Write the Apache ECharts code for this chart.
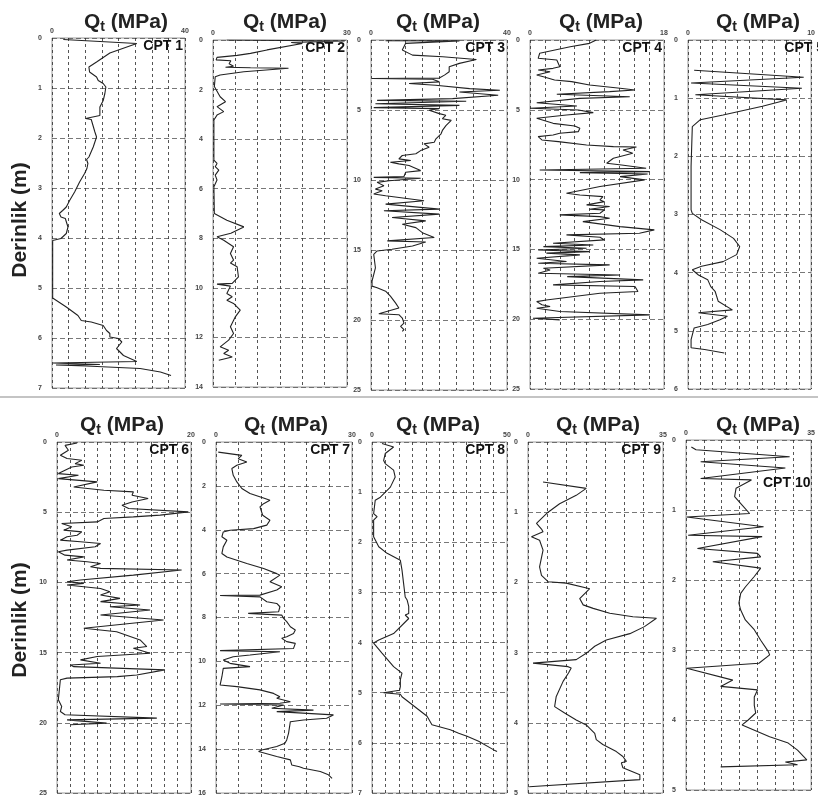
<!DOCTYPE html>
<html>
<head>
<meta charset="utf-8">
<script src="https://cdn.jsdelivr.net/npm/echarts@6/dist/echarts.min.js"></script>
<style>
  html, body { margin: 0; padding: 0; background: #fff; }
  #chart { width: 818px; height: 800px; }
</style>
</head>
<body>
<div id="chart"></div>
<script>
// ---- CPT soundings: depth (m) and cone resistance Qt (MPa) ----
const cpt1Depth = [0.03,0.11,0.3,0.48,0.58,0.68,0.78,0.85,0.91,0.98,1.11,1.25,1.38,1.55,1.61,1.63,1.88,1.98,2.18,2.38,2.43,2.51,2.61,2.71,2.88,3.08,3.25,3.38,3.45,3.51,3.58,3.61,3.78,3.91,4.01,4.05,5.2,5.38,5.55,5.65,5.68,5.75,5.85,5.91,5.98,6.01,6.08,6.21,6.25,6.35,6.41,6.47,6.5,6.53,6.54,6.56,6.61,6.68,6.75];
const cpt1Qt    = [3.4,25.5,17.4,13.4,11.1,11.3,13.4,13.9,15.4,16.2,15.9,15.4,14.4,14.4,10.1,11.8,12.9,13.4,12.4,11.1,10.4,10.8,10.5,9.8,8.3,6.8,5.3,4.3,3.2,2.2,2.7,4.0,4.8,4.3,2.7,0.2,0.2,4.3,7.8,8.8,11.8,15.4,16.4,17.4,17.4,20.0,21.0,19.4,18.9,21.5,23.5,25.5,0.2,14.4,1.2,10.3,26.5,32.6,35.8];

const cpt2Depth = [0.0,0.04,0.1,0.14,0.4,0.54,0.62,0.7,0.8,0.84,0.96,1.06,1.1,1.12,1.14,1.28,1.41,1.48,1.88,2.29,2.49,2.69,2.89,3.03,3.23,4.85,4.98,5.11,5.25,5.45,5.65,5.92,7.0,7.27,7.54,7.8,7.94,8.08,8.34,8.61,8.88,9.0,9.15,9.56,9.82,9.85,9.93,10.23,10.36,10.5,10.63,10.9,11.17,11.57,11.84,12.11,12.38,12.52,12.65,12.79,12.92];
const cpt2Qt    = [3.1,29.5,17.5,20.0,12.1,8.4,5.4,0.9,0.7,4.0,3.6,4.6,2.8,8.4,16.9,6.9,1.6,0.5,0.3,1.6,2.8,0.9,2.4,0.9,0.2,0.2,0.9,0.5,1.3,0.5,0.9,0.2,0.3,3.1,6.9,4.0,0.9,2.4,4.6,3.9,4.6,3.9,5.4,5.7,4.3,0.9,3.9,3.1,4.3,3.1,4.6,6.1,5.0,3.9,4.6,3.5,1.6,3.5,2.4,4.3,1.3];

const cpt3Depth = [0.05,0.06,0.24,0.72,1.08,1.2,1.39,1.67,1.91,2.27,2.51,2.72,2.75,2.8,2.99,3.11,3.23,3.47,3.59,3.71,3.95,4.19,4.31,4.38,4.55,4.67,4.83,4.9,5.02,5.26,5.38,5.62,5.74,6.1,6.46,6.7,7.06,7.3,7.42,7.66,7.9,8.13,8.25,8.49,8.61,8.73,8.85,8.97,9.33,9.45,9.75,9.81,9.87,10.05,10.17,10.41,10.65,10.77,11.0,11.12,11.48,11.72,12.08,12.2,12.44,12.68,12.92,13.16,13.4,13.76,14.11,14.35,14.43,14.71,14.95,15.07,15.31,16.27,16.75,17.22,17.58,17.7,17.94,18.3,18.78,19.14,19.55,19.62,19.86,20.22,20.45,20.69,20.81];
const cpt3Qt    = [4.3,26.0,10.2,9.2,12.2,21.1,31.0,26.0,23.0,23.0,21.6,20.1,0.3,18.1,20.1,11.2,19.0,29.0,37.9,26.0,37.4,24.0,1.8,28.0,1.3,26.0,0.8,20.0,17.1,20.1,22.0,21.0,23.6,22.1,21.0,20.6,19.1,18.6,15.6,17.1,14.6,13.2,9.2,8.2,11.7,5.7,8.2,11.2,14.6,10.2,9.7,0.8,14.6,5.3,1.8,3.8,1.3,3.3,0.8,4.3,15.6,4.3,20.1,3.8,20.1,6.2,16.1,9.2,13.2,15.1,18.6,4.8,16.1,12.2,6.2,1.8,0.8,1.3,0.8,0.3,0.3,1.8,4.3,5.7,7.2,8.2,2.3,8.2,9.2,9.7,8.7,9.7,9.2];

const cpt4Depth = [0.0,0.24,0.48,0.95,1.31,1.43,1.91,2.03,2.15,2.27,2.51,2.63,2.86,2.98,3.22,3.46,3.58,3.7,3.89,4.06,4.18,4.49,4.73,4.89,5.01,5.2,5.37,5.61,5.97,6.16,6.32,6.56,6.68,6.8,6.92,7.16,7.28,7.52,7.64,7.66,7.88,8.11,8.47,8.83,8.95,9.19,9.31,9.43,9.5,9.6,9.79,10.02,10.5,10.74,10.98,11.1,11.22,11.46,11.58,11.81,11.93,12.12,12.17,12.41,12.53,12.65,12.77,13.01,13.37,13.6,13.84,13.96,14.13,14.32,14.44,14.56,14.68,14.8,14.92,15.04,15.16,15.27,15.39,15.63,15.87,15.99,16.11,16.35,16.47,16.71,16.83,16.95,17.18,17.3,17.54,17.66,18.02,18.14,18.62,18.74,18.97,19.09,19.21,19.45,19.69,19.93,20.05];
const cpt4Qt    = [8.9,8.0,5.4,1.3,1.1,3.6,4.0,3.1,1.1,2.7,0.9,1.8,3.3,5.6,8.0,12.1,14.1,10.7,3.6,13.4,6.7,0.9,6.3,0.0,6.5,8.5,4.9,0.9,3.1,6.0,6.7,6.5,4.0,3.1,1.1,1.6,3.8,7.6,11.2,14.3,12.5,13.8,11.2,10.3,12.3,15.6,1.3,16.1,6.7,15.8,12.1,15.4,9.4,7.1,4.9,6.7,9.8,9.4,10.0,7.6,10.7,8.0,10.0,9.4,4.0,9.4,10.7,7.1,12.1,16.7,14.7,4.9,9.4,10.0,9.8,3.1,8.5,1.8,7.6,1.1,8.0,2.2,6.7,0.9,4.9,1.1,10.7,1.8,2.7,1.1,12.1,5.0,15.2,9.4,3.1,14.1,14.5,9.4,2.2,0.9,1.6,2.7,0.9,4.0,16.1,0.4,4.0];

const cpt5Depth = [0.52,0.64,0.74,0.83,0.94,1.03,1.14,1.29,1.37,1.49,2.17,2.92,2.98,3.09,3.26,3.41,3.55,3.69,3.81,3.89,3.95,4.04,4.12,4.24,4.32,4.49,4.64,4.69,4.75,4.81,4.89,4.95,5.15,5.29,5.32,5.38];
const cpt5Qt    = [0.5,9.4,0.25,9.25,0.6,8.0,6.05,2.85,1.0,0.35,0.25,0.25,0.35,1.1,2.6,3.7,4.2,3.95,2.85,1.1,0.35,0.85,1.6,1.85,2.2,2.45,3.6,0.85,3.2,2.6,1.6,0.5,0.25,0.25,1.35,2.95];

const cpt6Depth = [0.07,0.24,0.59,0.95,1.18,1.3,1.54,1.66,1.78,2.01,2.25,2.37,2.61,2.84,3.2,3.44,3.55,3.79,4.03,4.27,4.5,4.74,4.98,5.21,5.33,5.45,5.69,5.81,6.04,6.28,6.4,6.64,6.75,6.99,7.11,7.23,7.46,7.7,7.82,8.06,8.18,8.41,8.53,8.65,8.89,9.0,9.12,9.48,9.83,9.95,10.07,10.19,10.43,10.66,10.9,11.14,11.37,11.61,11.73,11.97,12.32,12.68,13.27,13.51,14.1,14.57,14.69,15.05,15.28,15.52,15.76,15.88,16.0,16.23,16.59,16.71,16.82,16.94,18.36,18.84,19.2,19.43,19.67,19.79,20.02,20.14];
const cpt6Qt    = [3.0,1.2,1.7,0.5,1.5,3.7,2.7,4.0,2.2,1.2,0.2,3.2,0.2,6.0,2.5,7.0,11.4,11.2,13.6,11.2,9.7,10.7,19.6,15.4,11.4,7.0,6.0,0.7,2.2,1.0,3.7,3.0,1.5,0.5,3.5,6.5,5.7,1.5,0.2,1.2,4.0,1.5,4.5,6.5,5.0,6.5,18.6,11.4,3.5,1.5,4.0,1.5,6.5,7.9,6.5,9.4,6.5,12.4,7.9,13.9,6.5,15.9,4.0,8.9,12.4,13.4,11.4,13.9,6.0,3.5,6.5,2.0,2.5,16.1,11.9,9.0,1.5,0.5,0.2,0.7,0.5,1.2,14.9,1.5,7.4,2.0];

const cpt7Depth = [0.46,0.61,0.76,0.91,1.06,1.21,1.52,1.82,2.12,2.35,2.58,2.66,2.81,2.96,3.34,3.57,3.79,3.95,4.02,4.1,4.32,4.48,4.78,5.08,5.24,5.54,5.77,6.0,6.07,6.37,6.6,6.75,6.98,7.0,7.06,7.28,7.36,7.51,7.74,7.81,7.89,8.04,8.19,8.42,8.57,8.73,8.88,8.95,9.1,9.18,9.41,9.51,9.56,9.71,9.79,9.94,10.09,10.24,10.32,10.7,11.08,11.15,11.3,11.46,11.61,11.68,11.84,11.91,11.94,11.99,12.14,12.22,12.29,12.44,12.59,12.67,12.75,13.28,13.58,13.73,13.88,14.04,14.11,14.34,14.49,14.72,14.8,14.87,15.02,15.17,15.33];
const cpt7Qt    = [0.5,5.7,4.9,6.8,4.6,3.5,3.8,4.6,5.7,7.5,10.8,11.9,10.5,9.7,10.3,11.9,11.2,8.3,3.1,1.6,1.3,2.4,1.6,1.3,2.4,6.8,10.5,13.4,14.1,11.9,14.5,13.4,9.7,0.9,9.7,11.2,13.4,14.1,13.8,7.1,14.5,14.9,15.6,16.4,17.5,17.1,15.6,14.5,15.6,17.5,17.1,0.9,14.1,7.5,3.8,1.6,3.1,7.5,1.6,1.3,0.9,4.6,9.7,12.7,14.1,13.4,16.4,14.1,0.9,14.9,12.3,21.5,13.4,25.9,24.4,19.3,16.4,16.0,15.6,15.2,13.4,10.1,9.4,13.4,16.4,16.7,18.4,19.3,23.0,24.8,25.6];

const cpt8Depth = [0.03,0.1,0.23,0.37,0.43,0.56,0.7,0.9,1.1,1.16,1.43,1.49,1.56,1.89,2.09,2.22,2.36,2.55,2.82,3.09,3.15,3.28,3.42,3.45,3.52,3.82,3.95,4.01,4.21,4.48,4.61,4.74,4.88,4.95,5.0,5.03,5.08,5.34,5.47,5.64,5.67,5.74,5.81,5.87,5.97,6.14,6.17];
const cpt8Qt    = [3.7,8.0,4.9,4.3,4.9,8.0,8.6,6.8,3.1,1.2,0.6,1.9,0.6,0.6,2.5,5.6,10.5,11.1,11.7,12.3,13.0,13.6,13.6,12.3,13.6,8.0,2.5,0.6,3.7,8.0,11.1,10.5,10.5,10.2,4.3,10.5,11.1,17.3,20.4,22.2,22.8,29.0,32.1,35.2,39.5,45.1,46.3];

const cpt9Depth = [0.57,0.66,0.76,0.88,1.0,1.16,1.24,1.28,1.35,1.4,1.54,1.78,1.9,1.99,2.01,2.09,2.23,2.32,2.37,2.44,2.49,2.51,2.63,2.73,2.82,2.91,3.01,3.1,3.15,3.2,3.22,3.29,3.41,3.63,3.77,3.86,3.96,4.03,4.15,4.24,4.31,4.41,4.48,4.55,4.57,4.64,4.69,4.74,4.81,4.91];
const cpt9Qt    = [3.9,15.1,12.5,8.2,5.2,2.2,3.5,3.9,0.9,3.0,3.9,3.0,3.5,5.2,9.9,16.0,13.4,14.3,16.9,21.2,27.2,33.3,30.2,26.4,20.3,17.3,15.1,12.5,1.3,10.4,11.2,10.5,9.1,7.3,6.9,9.5,12.5,15.1,17.3,17.7,19.4,22.9,24.6,25.5,24.2,24.6,26.8,29.0,29.0,0.3];

const cpt10Depth = [0.1,0.14,0.24,0.31,0.4,0.55,0.57,0.69,0.81,0.93,1.05,1.1,1.24,1.36,1.38,1.55,1.62,1.67,1.74,1.83,1.95,2.1,2.19,2.33,2.43,2.57,2.71,2.86,3.02,3.07,3.19,3.26,3.43,3.52,3.57,3.67,3.79,3.9,4.0,4.07,4.24,4.33,4.43,4.57,4.6,4.64,4.67];
const cpt10Qt    = [1.5,2.8,29.0,4.1,27.8,4.1,18.3,14.0,13.6,15.7,17.8,0.2,21.7,0.6,21.3,3.2,20.0,20.9,7.5,20.9,19.1,16.6,15.3,14.8,15.3,16.6,19.1,20.9,23.0,23.4,20.4,0.2,13.1,9.7,20.0,19.1,19.1,19.5,17.4,15.7,23.4,28.6,31.2,33.8,27.8,31.2,9.7];

// axis ranges per sounding
const cptNames   = ['CPT 1','CPT 2','CPT 3','CPT 4','CPT 5','CPT 6','CPT 7','CPT 8','CPT 9','CPT 10'];
const qtMax      = [40, 30, 40, 18, 10, 20, 30, 50, 35, 35];
const qtStep     = [5, 5, 5, 2, 1, 2, 5, 5, 5, 5];
const depthMax   = [7, 14, 25, 25, 6, 25, 16, 7, 5, 5];
const depthStep  = [1, 2, 5, 5, 1, 5, 2, 1, 1, 1];
const depths = [cpt1Depth,cpt2Depth,cpt3Depth,cpt4Depth,cpt5Depth,cpt6Depth,cpt7Depth,cpt8Depth,cpt9Depth,cpt10Depth];
const qts    = [cpt1Qt,cpt2Qt,cpt3Qt,cpt4Qt,cpt5Qt,cpt6Qt,cpt7Qt,cpt8Qt,cpt9Qt,cpt10Qt];

// panel frames in pixels: [left, top, right, bottom]
const W = 818, H = 800;
const frames = [
  [52, 38, 185, 388], [213, 40, 347, 387], [371, 40, 507, 390], [530, 40, 664, 389], [688, 40, 823, 389],
  [57, 442, 191, 793], [216, 442, 352, 793], [372, 442, 507, 793], [528, 442, 663, 793], [686, 440, 821, 790]
];
const titleCenters = [[121, 4], [280, 4], [433, 4], [596, 4], [753, 4], [117, 407], [281, 407], [433, 407], [593, 407], [753, 407]];
// CPT tag anchor: [x, y, align]
const cptLabelPos = [[183, 39, 'right'], [345, 41, 'right'], [505, 41, 'right'], [662, 41, 'right'], [824, 41, 'right'],
                     [189, 443, 'right'], [350, 443, 'right'], [505, 443, 'right'], [661, 443, 'right'], [763, 476, 'left']];

const FONT = '"Liberation Sans", Arial, sans-serif';
const grids = [], xAxes = [], yAxes = [], series = [], titles = [], graphics = [];

for (let i = 0; i < 10; i++) {
  const [l, t, r, b] = frames[i];
  grids.push({ left: l, top: t, width: r - l, height: b - t, show: true, borderColor: '#9a9a9a', borderWidth: 1, containLabel: false });
  const mx = qtMax[i];
  xAxes.push({
    type: 'value', gridIndex: i, position: 'top', min: 0, max: mx, interval: qtStep[i],
    axisLine: { show: false }, axisTick: { show: false },
    axisLabel: { show: true, fontSize: 7, color: '#444', fontFamily: FONT, fontWeight: 'bold', margin: 3,
      showMinLabel: true, showMaxLabel: true,
      formatter: v => (v === 0 || v === mx) ? String(v) : '' },
    splitLine: { show: true, lineStyle: { color: '#2a2a2a', width: 0.8, type: [3, 3] } }
  });
  yAxes.push({
    type: 'value', gridIndex: i, inverse: true, min: 0, max: depthMax[i], interval: depthStep[i],
    axisLine: { show: false }, axisTick: { show: false },
    axisLabel: { show: true, fontSize: 7, color: '#444', fontFamily: FONT, fontWeight: 'bold', margin: 10 },
    splitLine: { show: true, lineStyle: { color: '#555', width: 0.8, type: [5, 3] } }
  });
  series.push({
    type: 'line', xAxisIndex: i, yAxisIndex: i, showSymbol: false, symbol: 'none', animation: false,
    lineStyle: { color: '#222', width: 1.1 },
    data: depths[i].map((d, k) => [qts[i][k], d])
  });
  titles.push({
    text: '{q|Q}{s|t}{q| (MPa)}', left: titleCenters[i][0], top: titleCenters[i][1], textAlign: 'center',
    textStyle: { rich: {
      q: { fontSize: 21, fontWeight: 'bold', fontFamily: FONT, color: '#222', lineHeight: 26 },
      s: { fontSize: 14, fontWeight: 'bold', fontFamily: FONT, color: '#222', lineHeight: 26, padding: [11, 0, 0, 0] }
    } }
  });
  graphics.push({
    type: 'text', x: cptLabelPos[i][0], y: cptLabelPos[i][1], z: 10,
    style: { text: cptNames[i], fill: '#111', font: 'bold 14px ' + FONT, align: cptLabelPos[i][2], verticalAlign: 'top' }
  });
}

// depth axis names, row separator
graphics.push(
  { type: 'text', x: 20, y: 220, rotation: Math.PI / 2, style: { text: 'Derinlik (m)', fill: '#222', font: 'bold 21px ' + FONT, align: 'center', verticalAlign: 'middle' } },
  { type: 'text', x: 20, y: 620, rotation: Math.PI / 2, style: { text: 'Derinlik (m)', fill: '#222', font: 'bold 21px ' + FONT, align: 'center', verticalAlign: 'middle' } },
  { type: 'rect', shape: { x: 0, y: 396, width: W, height: 2 }, style: { fill: '#c4c4c4' } }
);

const chart = echarts.init(document.getElementById('chart'), null, { renderer: 'canvas' });
chart.setOption({
  backgroundColor: '#fff',
  animation: false,
  title: titles,
  grid: grids,
  xAxis: xAxes,
  yAxis: yAxes,
  series: series,
  graphic: graphics
});
</script>
</body>
</html>
